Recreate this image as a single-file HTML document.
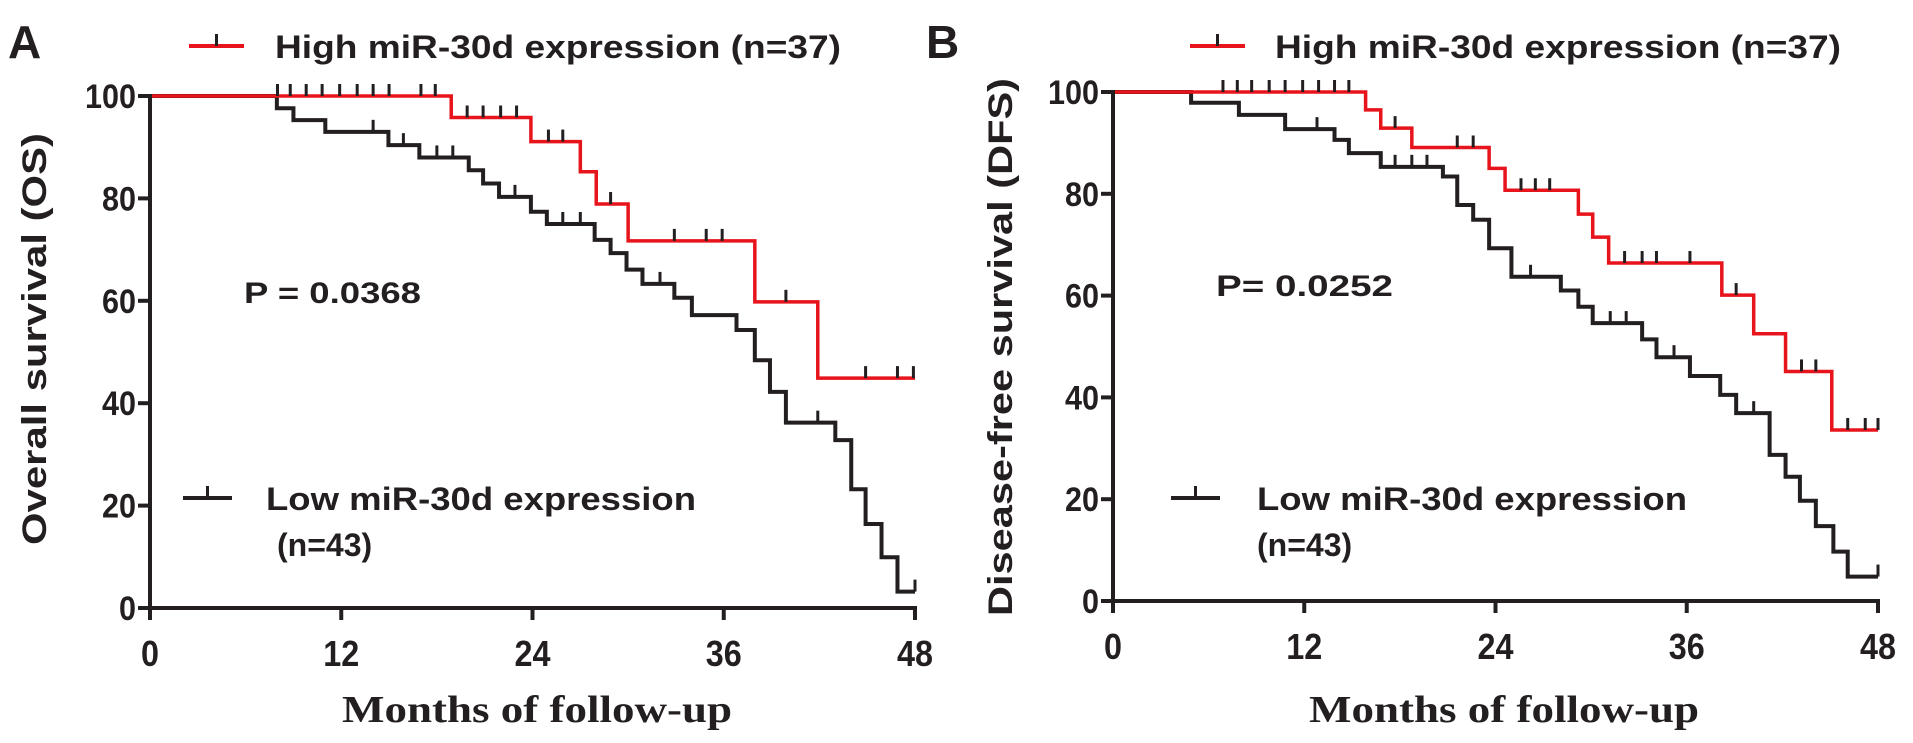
<!DOCTYPE html>
<html><head><meta charset="utf-8"><style>
html,body{margin:0;padding:0;background:#fff;}
svg{display:block;font-family:"Liberation Sans",Arial,sans-serif;}
</style></head><body>
<svg id="c" width="1913" height="743" viewBox="0 0 1913 743" xmlns="http://www.w3.org/2000/svg"></svg>
<script>
// Panel A data (months, survival %)
const aHighSteps=[[0,100],[18.9,95.8],[23.9,91.1],[27,85.2],[28,78.9],[30,71.7],[37.95,59.8],[41.9,44.9]];
const aHighCens=[8,8.8,9.8,10.8,11.9,13,14,15,17,17.9,19.9,20.9,22,23,25,25.9,28.9,32.9,34.9,35.9,39.9,44.9,46.9,47.9];
const aLowSteps=[[0,100],[7.96,97.6],[9,95.3],[11,93],[14.96,90.4],[16.9,88],[20,85.5],[20.9,82.9],[21.9,80.3],[23.9,77.4],[24.9,75],[27.9,71.9],[28.9,69.3],[29.9,66.1],[30.9,63.3],[32.9,60.6],[34,57.2],[36.8,54.3],[37.95,48.4],[38.9,42.2],[39.9,36.2],[43,32.8],[44,23.2],[44.9,16.4],[45.9,9.9],[46.9,3.2]];
const aLowCens=[14,15.9,18,19,22.9,25.9,27,32,41.9,48];
// Panel B data
const bHighSteps=[[0,100],[15.85,96.5],[16.8,92.9],[18.75,89.1],[23.6,85],[24.6,80.7],[29.2,76],[30.1,71.5],[31.1,66.4],[38.2,60.1],[40.2,52.5],[42.2,45.1],[45.1,33.6]];
const bHighCens=[6.9,7.8,8.7,9.8,10.8,11.9,12.9,13.9,14.8,17.7,21.6,22.6,25.6,26.5,27.4,32.1,33.2,34.1,36.2,39.1,43.2,44.1,46.1,47.2,48];
const bLowSteps=[[0,100],[4.9,97.9],[7.9,95.5],[10.8,92.7],[13.9,90.6],[14.8,88],[16.8,85.3],[20.7,83.4],[21.6,77.8],[22.6,74.9],[23.6,69.3],[25,63.7],[28.1,61],[29.2,57.8],[30.1,54.6],[33.2,51.4],[34.1,47.9],[36.2,44.2],[38.1,40.5],[39.1,36.9],[41.2,28.7],[42.2,24.4],[43.1,19.7],[44.1,14.7],[45.2,9.7],[46.1,4.8]];
const bLowCens=[12.8,17.7,18.75,19.7,26.2,31.2,32.2,35.2,40.2,48];
const xTicks=[0,12,24,36,48];
const yTicks=[0,20,40,60,80,100];

const NS="http://www.w3.org/2000/svg";
const svg=document.getElementById('c');
function mk(tag,attrs,parent,text){const e=document.createElementNS(NS,tag);for(const k in attrs)e.setAttribute(k,attrs[k]);if(text!==undefined)e.textContent=text;(parent||svg).appendChild(e);return e;}

function valueAt(steps,t){let v=steps[0][1];for(const s of steps){if(s[0]<=t)v=s[1];}return v;}

function panel(cfg){
  const g=mk('g',{});
  
  
  const X=m=>cfg.x0+(m/48)*(cfg.x1-cfg.x0);
  const Y=v=>cfg.y0-(v/100)*(cfg.y0-cfg.y100);
  function curve(steps,cens,color,w,nm){
    let d='M'+X(0)+' '+Y(steps[0][1]);
    for(let i=1;i<steps.length;i++){d+=' H'+X(steps[i][0])+' V'+Y(steps[i][1]);}
    d+=' H'+X(48);
    const p=mk('path',{d:d,fill:'none',stroke:color,'stroke-width':w},g);
    
    
    cens.forEach(c=>{
      const yy=Y(valueAt(steps,c));
      const l=mk('line',{x1:X(c),x2:X(c),y1:yy,y2:yy-12,stroke:'#231f20','stroke-width':3},g);
      
      
    });
  }
  curve(cfg.low,cfg.lowC,'#231f20',4,'low-expression');
  curve(cfg.high,cfg.highC,'#e8141c',3.5,'high-expression');
  // axes
  const ya=mk('line',{x1:X(0),x2:X(0),y1:Y(0)+2,y2:Y(100)-2,stroke:'#231f20','stroke-width':4},g);
  
  
  const xa=mk('line',{x1:X(0)-2,x2:X(48)+2,y1:Y(0),y2:Y(0),stroke:'#231f20','stroke-width':4},g);
  
  
  yTicks.forEach(v=>{
    mk('line',{x1:X(0)-12,x2:X(0),y1:Y(v),y2:Y(v),stroke:'#231f20','stroke-width':4},g);
    const t=mk('text',{x:X(0)-14,y:Y(v)+12,'text-anchor':'end','font-size':34,'font-weight':'bold',fill:'#231f20',textLength:(String(v).length*17),lengthAdjust:'spacingAndGlyphs'},g,String(v));
    
    
  });
  xTicks.forEach(m=>{
    mk('line',{x1:X(m),x2:X(m),y1:Y(0),y2:Y(0)+12,stroke:'#231f20','stroke-width':4},g);
    const t=mk('text',{x:X(m),y:Y(0)+58,'text-anchor':'middle','font-size':36,'font-weight':'bold',fill:'#231f20',textLength:(String(m).length*18),lengthAdjust:'spacingAndGlyphs'},g,String(m));
    
    
  });
}

panel({name:'panel-a-os',x0:150,x1:915,y0:608,y100:96,high:aHighSteps,highC:aHighCens,low:aLowSteps,lowC:aLowCens});
panel({name:'panel-b-dfs',x0:1113,x1:1878,y0:601,y100:92,high:bHighSteps,highC:bHighCens,low:bLowSteps,lowC:bLowCens});
</script>
<script>
(function(){
const NS="http://www.w3.org/2000/svg";
const svg=document.getElementById('c');
function tx(x,y,s,attrs,name){const e=document.createElementNS(NS,'text');e.setAttribute('x',x);e.setAttribute('y',y);for(const k in attrs)e.setAttribute(k,attrs[k]);e.textContent=s;


svg.appendChild(e);return e;}
function ln(x1,y1,x2,y2,c,w,name){const e=document.createElementNS(NS,'line');e.setAttribute('x1',x1);e.setAttribute('y1',y1);e.setAttribute('x2',x2);e.setAttribute('y2',y2);e.setAttribute('stroke',c);e.setAttribute('stroke-width',w);


svg.appendChild(e);}
const B={'font-weight':'bold',fill:'#231f20'};
function a(o){return Object.assign({},B,o);}
tx(8,58,'A',a({'font-size':46}),'panel-a-label');
tx(926,58,'B',a({'font-size':46}),'panel-b-label');
// legends
[[189,244,275],[1190,1245,1275]].forEach((p,i)=>{
  ln(p[0],46,p[1],46,'#e8141c',4,'legend-high-line');
  ln((p[0]+p[1])/2,46,(p[0]+p[1])/2,34,'#231f20',3,'legend-high-tick');
  tx(p[2],58,'High miR-30d expression (n=37)',a({'font-size':32,textLength:566,lengthAdjust:'spacingAndGlyphs'}),'legend-high-text');
});
[[183,232,266,277],[1171,1220,1257,1257]].forEach(p=>{
  ln(p[0],498,p[1],498,'#231f20',4,'legend-low-line');
  ln((p[0]+p[1])/2,498,(p[0]+p[1])/2,486,'#231f20',3,'legend-low-tick');
  tx(p[2],510,'Low miR-30d expression',a({'font-size':32,textLength:430,lengthAdjust:'spacingAndGlyphs'}),'legend-low-text');
  tx(p[3],556,'(n=43)',a({'font-size':32}),'legend-low-n');
});
tx(244,303,'P = 0.0368',a({'font-size':30,textLength:177,lengthAdjust:'spacingAndGlyphs'}),'p-value-a');
tx(1216,296,'P= 0.0252',a({'font-size':30,textLength:177,lengthAdjust:'spacingAndGlyphs'}),'p-value-b');
tx(0,0,'Overall survival (OS)',a({'font-size':34,'text-anchor':'middle',transform:'translate(46,339) rotate(-90)',textLength:412,lengthAdjust:'spacingAndGlyphs'}),'y-axis-title-a');
tx(0,0,'Disease-free survival (DFS)',a({'font-size':34,'text-anchor':'middle',transform:'translate(1012,347) rotate(-90)',textLength:538,lengthAdjust:'spacingAndGlyphs'}),'y-axis-title-b');
const S={'font-family':'"Liberation Serif",serif','font-weight':'bold','font-size':38,fill:'#231f20','text-anchor':'middle',textLength:390,lengthAdjust:'spacingAndGlyphs'};
tx(537,722,'Months of follow-up',S,'x-axis-title-a');
tx(1504,722,'Months of follow-up',S,'x-axis-title-b');
})();
</script>
</body></html>
